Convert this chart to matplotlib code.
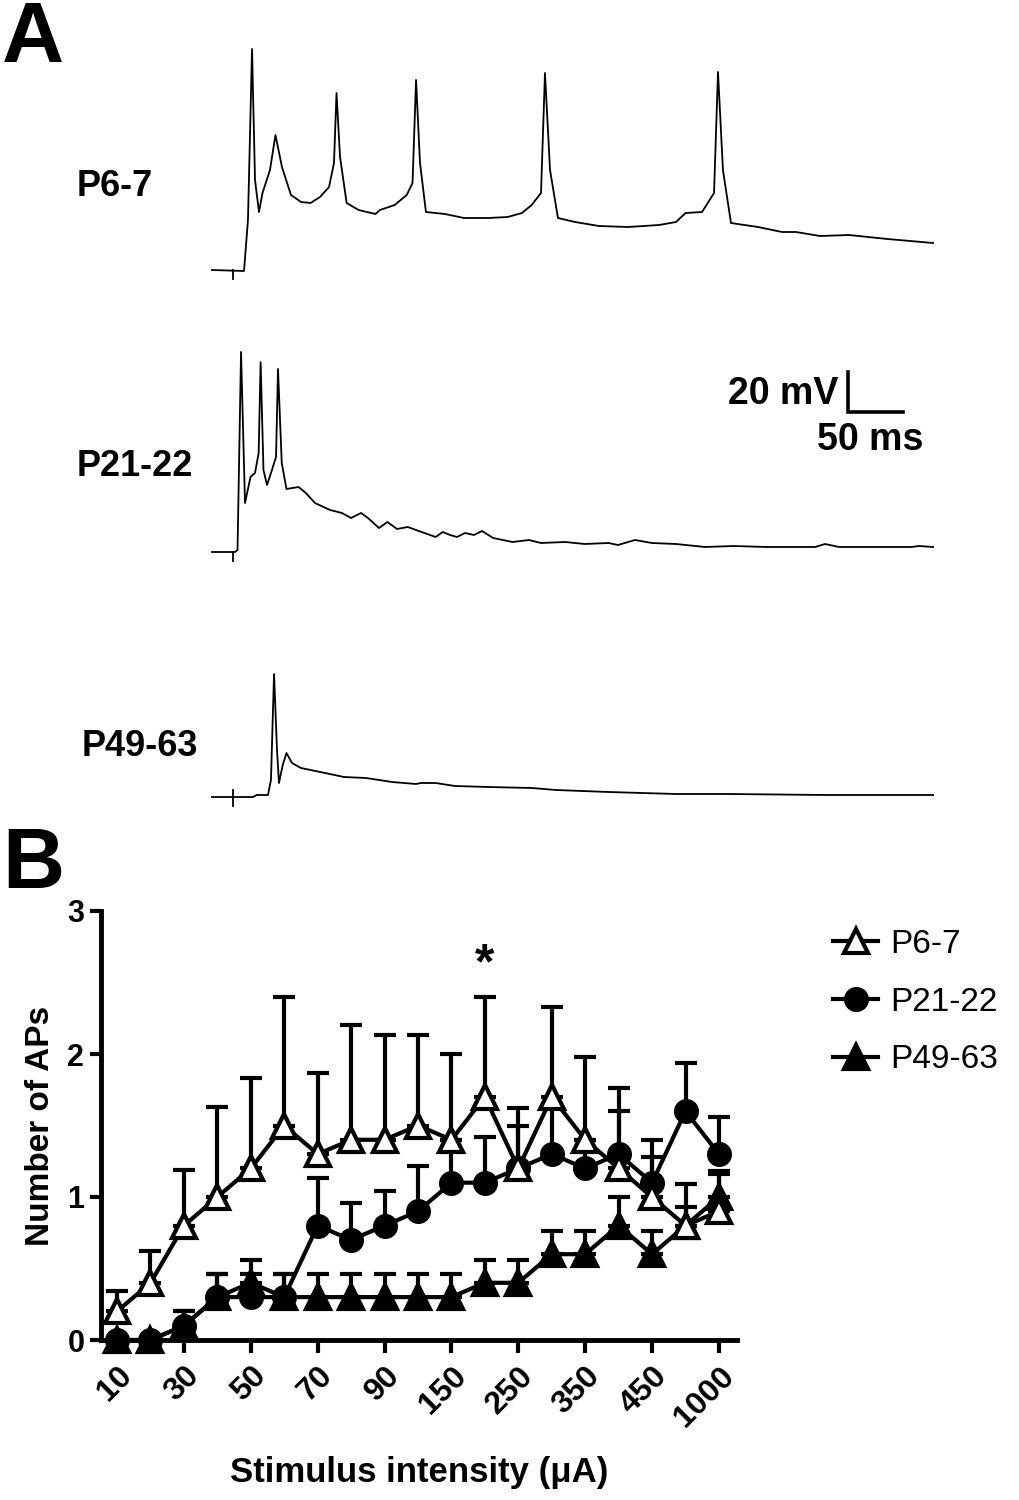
import numpy as np
import matplotlib
matplotlib.use("Agg")
import matplotlib.pyplot as plt

plt.rcParams['font.family'] = ['Liberation Sans', 'DejaVu Sans']

# ---- panel A: example traces (time in ms, voltage in mV above rest) ----
t_p6 = [0, 29.1, 32.7, 36.4, 39.1, 42.7, 45.9, 52.7, 57.7, 63.6, 71.8, 80.9, 89.6, 98.2,
        106.4, 110.9, 113.2, 116.4, 122.4, 133.3, 148.6, 152.7, 166.1, 177.0, 182.3, 185.5,
        189.1, 194.5, 211.8, 229.1, 251.4, 268.8, 281.8, 290.6, 299.1, 302.7, 307.3, 314.5,
        330.0, 351.8, 378.2, 406.4, 421.8, 430.5, 445.5, 456.4, 460.0, 464.5, 471.8, 496.4,
        518.2, 530.9, 552.7, 579.1, 614.1, 655.5]
v_p6 = [0, -0.5, 25, 110.5, 45, 29, 38.5, 50, 67.5, 51.5, 37.5, 34, 33.5, 36.5,
        41.5, 53.5, 88.5, 56.5, 33.5, 30, 28, 30, 32.5, 37.5, 43.5, 95,
        53.5, 29, 28, 26, 26, 26.5, 28.5, 32.5, 38.5, 98.5, 50, 26,
        24, 22, 21.5, 22.5, 24, 28.5, 29, 38.5, 99, 50, 23.5, 21.5,
        19, 19, 17, 17.5, 15.5, 13.5]

t_p21 = [0, 20.9, 23.2, 26.4, 30.0, 35.0, 39.1, 42.4, 44.2, 46.8, 50.0, 54.5, 58.2, 60.0,
         63.4, 67.7, 78.7, 85.3, 93.6, 107.3, 118.2, 126.4, 135.5, 141.8, 151.8, 159.5,
         168.2, 177.9, 185.5, 203.3, 209.8, 216.4, 222.7, 230.0, 238.2, 245.5, 255.5,
         273.2, 288.2, 299.1, 320.9, 338.7, 360.5, 369.1, 384.5, 400.0, 421.8, 448.2,
         474.2, 504.5, 548.2, 557.3, 570.0, 635.9, 642.7, 655.5]
v_p21 = [0, 0, 1, 100, 24.5, 37.5, 39.5, 49.5, 95, 41, 33.5, 41, 47.5, 91.5,
         44.5, 31.5, 32.5, 29.5, 24.5, 21, 19.5, 17, 19.5, 17, 12, 15,
         11.5, 12.5, 11, 7.5, 10, 8.5, 7.5, 9.5, 8.5, 10.5, 7,
         5, 6, 4.5, 5, 4, 4.5, 3.5, 6, 4.5, 4, 2.5,
         3, 2.5, 2.5, 4, 2.5, 2.5, 3, 2.5]

t_p49 = [0, 37.3, 40.6, 50.9, 53.6, 56.4, 59.1, 60.9, 64.3, 67.7, 72.7, 80.9, 102.7, 120.0,
         140.0, 163.6, 185.5, 190.0, 203.3, 220.9, 251.4, 290.6, 312.7, 360.5, 421.8,
         470.0, 557.3, 655.5]
v_p49 = [0, 0, 1, 1, 8.5, 61.5, 23.5, 7, 16, 22, 17, 14.5, 12, 10,
         9.5, 7.5, 6.5, 7, 7, 5.5, 5, 4.5, 3.5, 2.5, 1.5,
         1.5, 1, 1]

trace_names = ["P6-7", "P21-22", "P49-63"]
stim_time = 19.0

# ---- panel B: number of APs vs stimulus intensity ----
intensity = ["10", "20", "30", "40", "50", "60", "70", "80", "90", "100", "150",
             "200", "250", "300", "350", "400", "450", "500", "1000"]
p6_mean = [0.2, 0.4, 0.8, 1.0, 1.2, 1.5, 1.3, 1.4, 1.4, 1.5, 1.4, 1.7, 1.2, 1.7, 1.4,
           1.2, 1.0, 0.8, 0.9]
p6_upper = [0.34, 0.62, 1.19, 1.63, 1.83, 2.4, 1.87, 2.2, 2.13, 2.13, 2.0, 2.4, 1.62,
            2.33, 1.98, 1.6, 1.28, 1.09, 1.16]
p21_mean = [0.0, 0.0, 0.1, 0.3, 0.3, 0.3, 0.8, 0.7, 0.8, 0.9, 1.1, 1.1, 1.2, 1.3, 1.2,
            1.3, 1.1, 1.6, 1.3]
p21_upper = [0.0, 0.0, 0.2, 0.46, 0.46, 0.46, 1.13, 0.96, 1.04, 1.22, 1.4, 1.42, 1.5,
             1.63, 1.4, 1.76, 1.4, 1.94, 1.56]
p49_mean = [0.0, 0.0, 0.1, 0.3, 0.4, 0.3, 0.3, 0.3, 0.3, 0.3, 0.3, 0.4, 0.4, 0.6, 0.6,
            0.8, 0.6, 0.8, 1.0]
p49_upper = [0.0, 0.0, 0.2, 0.46, 0.56, 0.46, 0.46, 0.46, 0.46, 0.46, 0.46, 0.56, 0.56,
             0.76, 0.76, 1.0, 0.76, 0.93, 1.18]
sig_index = 11  # 200 uA

W, H = 1019, 1500
fig = plt.figure(figsize=(W / 100, H / 100), dpi=100)

# panel A
axA = fig.add_axes([212 / W, 1 - 810 / H, 721.6 / W, 770 / H])
axA.set_xlim(0, 656)
axA.set_ylim(-270, 115)
axA.axis("off")
offsets = [0, -141, -263.5]
for (t, v), off in zip([(t_p6, v_p6), (t_p21, v_p21), (t_p49, v_p49)], offsets):
    axA.plot(t, np.array(v) + off, color="k", lw=1.3, clip_on=False)
    axA.plot([stim_time, stim_time], [off, off - 4.5], color="k", lw=1.3)
axA.plot([stim_time, stim_time], [offsets[2], offsets[2] + 3.5], color="k", lw=1.3)

# scale bar 20 mV / 50 ms
axA.plot([578.2, 578.2, 628.2], [-51, -71, -71], color="k", lw=2.6,
         solid_joinstyle="miter", clip_on=False)
axA.text(569, -62, "20 mV", ha="right", va="center", fontsize=27, fontweight="bold")
axA.text(598, -85, "50 ms", ha="center", va="center", fontsize=27, fontweight="bold")

for name, ypx, xpx in zip(trace_names, [187, 467, 747], [77, 77, 82]):
    fig.text(xpx / W, 1 - ypx / H, name, ha="left", va="center",
             fontsize=26, fontweight="bold")

fig.text(2 / W, 1 - 0 / H, "A", ha="left", va="top", fontsize=62, fontweight="bold")
fig.text(2 / W, 1 - 826 / H, "B", ha="left", va="top", fontsize=62, fontweight="bold")

# panel B
axB = fig.add_axes([101 / W, 1 - 1340 / H, 636 / W, 429 / H])
x = np.arange(len(intensity))
series = [
    ("P49-63", p49_mean, p49_upper, dict(marker="^", mfc="k"), 2),
    ("P21-22", p21_mean, p21_upper, dict(marker="o", mfc="k"), 3),
    ("P6-7", p6_mean, p6_upper, dict(marker="^", mfc="white"), 4),
]
handles = {}
for name, m, up, mk, z in series:
    m = np.array(m)
    err = np.clip(np.array(up) - m, 0, None)
    axB.errorbar(x, m, yerr=[np.zeros_like(m), err], fmt="none", ecolor="k",
                 elinewidth=3, capsize=8, capthick=3, zorder=z, clip_on=False)
    ms = 15 if mk["marker"] == "o" else 17
    line, = axB.plot(x, m, color="k", lw=3, ms=ms, mec="k", mew=3, zorder=z + 0.5,
                     clip_on=False, label=name, **mk)
    handles[name] = line

axB.set_xlim(-0.48, 18.54)
axB.set_ylim(0, 3)
axB.set_yticks([0, 1, 2, 3])
axB.set_yticklabels(["0", "1", "2", "3"], fontsize=22, fontweight="bold")
axB.set_xticks(x[::2])
axB.set_xticklabels(intensity[::2], fontsize=23, fontweight="bold", rotation=45,
                    ha="right", va="top", rotation_mode="anchor")
axB.tick_params(axis="both", width=3, length=8, direction="out", pad=4)
axB.tick_params(axis="x", length=9, pad=6)
for side in ["top", "right"]:
    axB.spines[side].set_visible(False)
for side in ["left", "bottom"]:
    axB.spines[side].set_linewidth(3.5)
axB.set_ylabel("Number of APs", fontsize=24, fontweight="bold")
axB.yaxis.set_label_coords(-0.07, 0.5)
axB.set_xlabel("Stimulus intensity (\u03bcA)", fontsize=25, fontweight="bold")
axB.xaxis.set_label_coords(0.5, -0.27)

axB.text(sig_index, 2.46, "*", ha="center", va="bottom", fontsize=36, fontweight="bold")

leg = axB.legend([handles["P6-7"], handles["P21-22"], handles["P49-63"]],
                 ["P6-7", "P21-22", "P49-63"], loc="upper left",
                 bbox_to_anchor=(833 / W, 1 - 929 / H), bbox_transform=fig.transFigure,
                 frameon=False, fontsize=24, handlelength=1.35, handletextpad=0.36,
                 labelspacing=0.8, borderpad=0, borderaxespad=0, numpoints=1)

fig.savefig("out.png", dpi=100)
plt.close(fig)
